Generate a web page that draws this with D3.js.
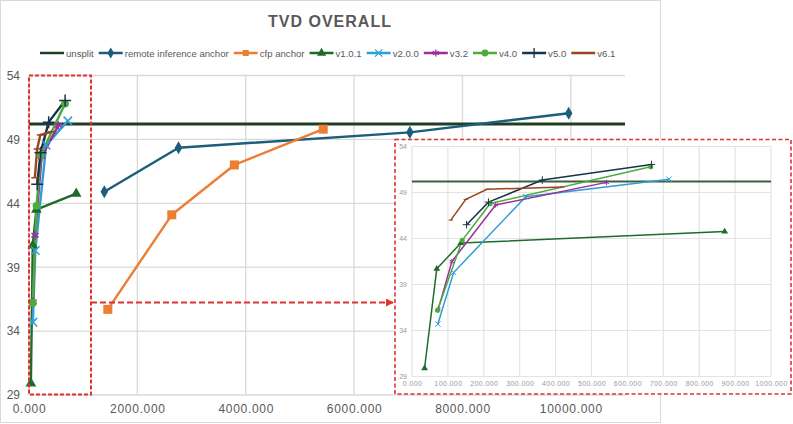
<!DOCTYPE html>
<html>
<head>
<meta charset="utf-8">
<script src="https://cdn.jsdelivr.net/npm/d3@7"></script>
<style>
  body { margin: 0; background: #fff; }
  text { font-family: "Liberation Sans", Arial, sans-serif; }
</style>
</head>
<body>
<svg id="chart" width="793" height="424"></svg>
<script>
// values: [x, TVD]
const unsplit      = [[0, 50.2], [11000, 50.2]]
const remoteAnchor = [[1390, 44.9], [2760, 48.35], [7030, 49.55], [9960, 51.05]]
const cfpAnchor    = [[1455, 35.7], [2635, 43.1], [3790, 47.0], [5430, 49.8]]
const v101 = [[35, 29.9], [69, 40.7], [136, 43.5], [871, 44.75]]
const v200 = [[72, 34.7], [116, 40.3], [317, 48.55], [716, 50.45]]
const v32  = [[73, 36.3], [111, 41.5], [233, 47.65], [542, 50.1]]
const v40  = [[71, 36.2], [140, 43.8], [218, 47.8], [665, 51.8]]
const v50  = [[152, 45.5], [213, 47.95], [363, 50.35], [667, 52.05]]
const v61  = [[108, 46.0], [150, 48.25], [209, 49.35], [420, 49.6]]

const seriesNames = ['unsplit', 'remote inference anchor', 'cfp anchor', 'v1.0.1',
                     'v2.0.0', 'v3.2', 'v4.0', 'v5.0', 'v6.1']
const yTicks = [29, 34, 39, 44, 49, 54]
const xTicksMain = [0, 2000, 4000, 6000, 8000, 10000]
const xTicksInset = [0, 100, 200, 300, 400, 500, 600, 700, 800, 900, 1000]

const series = [
  { name: seriesNames[0], data: unsplit,      color: '#1f3d20', marker: 'dash',     noMarks: true },
  { name: seriesNames[1], data: remoteAnchor, color: '#1c5c7c', marker: 'diamond' },
  { name: seriesNames[2], data: cfpAnchor,    color: '#ed7d31', marker: 'square' },
  { name: seriesNames[3], data: v101,         color: '#1e6b2b', marker: 'triangle' },
  { name: seriesNames[4], data: v200,         color: '#2d9fd6', marker: 'x' },
  { name: seriesNames[5], data: v32,          color: '#9a2f9c', marker: 'asterisk' },
  { name: seriesNames[6], data: v40,          color: '#4dab3b', marker: 'circle' },
  { name: seriesNames[7], data: v50,          color: '#17344b', marker: 'plus' },
  { name: seriesNames[8], data: v61,          color: '#9c441c', marker: 'dash' }
]

const symbolTypes = {
  diamond: d3.symbolDiamond, square: d3.symbolSquare, triangle: d3.symbolTriangle,
  circle: d3.symbolCircle, x: d3.symbolX, asterisk: d3.symbolAsterisk, plus: d3.symbolPlus
}
const strokeOnly = { x: true, asterisk: true, plus: true }

const svg = d3.select('#chart')
const grey = '#d9d9d9'
const textGrey = '#595959'
const red = '#e0322c'

// chart frame
svg.append('rect')
  .attr('x', 0.5).attr('y', 0.5).attr('width', 660).attr('height', 422)
  .attr('fill', '#fff').attr('stroke', grey)

svg.append('text')
  .attr('x', 330).attr('y', 27)
  .attr('text-anchor', 'middle')
  .attr('font-size', 16).attr('font-weight', 'bold')
  .attr('letter-spacing', 1)
  .attr('fill', textGrey)
  .text('TVD OVERALL')

function drawMarker(g, s, x, y, size, strokeW) {
  if (s.marker === 'dash') {
    g.append('line')
      .attr('x1', x - size / 2).attr('x2', x + size / 2)
      .attr('y1', y).attr('y2', y)
      .attr('stroke', s.color).attr('stroke-width', strokeW)
    return
  }
  let sym = d3.symbol(symbolTypes[s.marker], size * size)
  let p = g.append('path')
    .attr('d', sym)
    .attr('transform', 'translate(' + [x, y] + ')')
  if (strokeOnly[s.marker]) {
    p.attr('fill', 'none').attr('stroke', s.color).attr('stroke-width', strokeW)
  } else {
    p.attr('fill', s.color)
  }
}

//
// legend
//
let legend = svg.append('g').attr('transform', 'translate(0,53)')
let lx = 40
series.forEach(s => {
  legend.append('line')
    .attr('x1', lx).attr('x2', lx + 24)
    .attr('stroke', s.color).attr('stroke-width', 2.5)
  drawMarker(legend, s, lx + 12, 0, s.marker === 'dash' ? 6 : 6, 1.3)
  let t = legend.append('text')
    .attr('x', lx + 26).attr('y', 3.5)
    .attr('font-size', 9.6).attr('fill', textGrey)
    .text(s.name)
  lx += 26 + t.node().getComputedTextLength() + 5
})

//
// main plot
//
const x = d3.scaleLinear().domain([0, 11000]).range([29, 625])
const y = d3.scaleLinear().domain([29, 54]).range([395, 75.5])

let main = svg.append('g')

main.selectAll('.hgrid').data(yTicks).enter().append('line')
  .attr('x1', x(0)).attr('x2', x(11000))
  .attr('y1', d => y(d)).attr('y2', d => y(d))
  .attr('stroke', grey).attr('stroke-width', 1.3)

main.selectAll('.vgrid').data(xTicksMain).enter().append('line')
  .attr('x1', d => x(d)).attr('x2', d => x(d))
  .attr('y1', y(29)).attr('y2', y(54))
  .attr('stroke', grey).attr('stroke-width', 1.3)

let yAxis = main.append('g')
  .attr('transform', 'translate(' + x(0) + ',0)')
  .call(d3.axisLeft(y).tickValues(yTicks).tickSize(0).tickPadding(9))
let xAxis = main.append('g')
  .attr('transform', 'translate(0,' + y(29) + ')')
  .call(d3.axisBottom(x).tickValues(xTicksMain).tickSize(0).tickPadding(9)
    .tickFormat(d3.format('.3f')))
;[yAxis, xAxis].forEach(a => {
  a.select('.domain').remove()
  a.selectAll('text').attr('fill', textGrey).attr('font-size', 12)
    .style('font-family', '"Liberation Sans", Arial, sans-serif')
})
xAxis.selectAll('text').attr('letter-spacing', 0.7)

let lineMain = d3.line().x(d => x(d[0])).y(d => y(d[1]))

series.forEach(s => {
  main.append('path')
    .attr('d', lineMain(s.data))
    .attr('fill', 'none')
    .attr('stroke', s.color)
    .attr('stroke-width', s.name === 'unsplit' ? 3 : 2.4)
    .attr('stroke-linejoin', 'round')
})
series.forEach(s => {
  if (s.noMarks) return
  let big = s.marker === 'square' ? 9 : 7
  s.data.forEach(d => drawMarker(main, s, x(d[0]), y(d[1]), big, 1.5))
})

//
// zoom box + arrow
//
svg.append('defs').append('marker')
    .attr('id', 'arrow')
    .attr('viewBox', '0 0 10 10')
    .attr('refX', 9).attr('refY', 5)
    .attr('markerWidth', 4).attr('markerHeight', 4)
    .attr('orient', 'auto')
  .append('path')
    .attr('d', 'M0,0L10,5L0,10Z')
    .attr('fill', red)

svg.append('rect')
  .attr('x', 29).attr('y', 75.5)
  .attr('width', 62).attr('height', 319)
  .attr('fill', 'none').attr('stroke', red)
  .attr('stroke-width', 2).attr('stroke-dasharray', '4,2')

svg.append('line')
  .attr('x1', 91).attr('x2', 393)
  .attr('y1', 302.5).attr('y2', 302.5)
  .attr('stroke', red).attr('stroke-width', 2)
  .attr('stroke-dasharray', '6,3')
  .attr('marker-end', 'url(#arrow)')

//
// inset
//
let inset = svg.append('g')
inset.append('rect')
  .attr('x', 395).attr('y', 139.5)
  .attr('width', 396).attr('height', 254.5)
  .attr('fill', '#fff').attr('stroke', red)
  .attr('stroke-width', 1.6).attr('stroke-dasharray', '4,2.5')

const xi = d3.scaleLinear().domain([0, 1000]).range([412, 771])
const yi = d3.scaleLinear().domain([29, 54]).range([376.5, 146.5])

inset.selectAll('.hgrid').data(yTicks).enter().append('line')
  .attr('x1', xi(0)).attr('x2', xi(1000))
  .attr('y1', d => yi(d)).attr('y2', d => yi(d))
  .attr('stroke', '#e3e3e3').attr('stroke-width', 1.2)
inset.selectAll('.vgrid').data(xTicksInset).enter().append('line')
  .attr('x1', d => xi(d)).attr('x2', d => xi(d))
  .attr('y1', yi(29)).attr('y2', yi(54))
  .attr('stroke', '#e3e3e3').attr('stroke-width', 1.2)

let yAxisI = inset.append('g')
  .attr('transform', 'translate(' + xi(0) + ',0)')
  .call(d3.axisLeft(yi).tickValues(yTicks).tickSize(0).tickPadding(5))
let xAxisI = inset.append('g')
  .attr('transform', 'translate(0,' + yi(29) + ')')
  .call(d3.axisBottom(xi).tickValues(xTicksInset).tickSize(0).tickPadding(5)
    .tickFormat(d3.format('.3f')))
;[yAxisI, xAxisI].forEach(a => {
  a.select('.domain').remove()
  a.selectAll('text').attr('fill', '#9a9a9a').attr('font-size', 7)
    .style('font-family', '"Liberation Sans", Arial, sans-serif')
})
xAxisI.selectAll('text').attr('letter-spacing', 0.4)

svg.select('defs').append('clipPath').attr('id', 'insetClip')
  .append('rect')
    .attr('x', xi(0)).attr('y', yi(54) - 4)
    .attr('width', xi(1000) - xi(0)).attr('height', yi(29) - yi(54) + 8)

let insetPlot = inset.append('g').attr('clip-path', 'url(#insetClip)')
let lineInset = d3.line().x(d => xi(d[0])).y(d => yi(d[1]))

series.forEach(s => {
  insetPlot.append('path')
    .attr('d', lineInset(s.data))
    .attr('fill', 'none')
    .attr('stroke', s.name === 'unsplit' ? '#3d5f3f' : s.color)
    .attr('stroke-width', s.name === 'unsplit' ? 2 : 1.5)
})
series.forEach(s => {
  if (s.noMarks) return
  s.data.forEach(d => {
    if (d[0] <= 1000) drawMarker(insetPlot, s, xi(d[0]), yi(d[1]), 4.5, 1)
  })
})
</script>
</body>
</html>
